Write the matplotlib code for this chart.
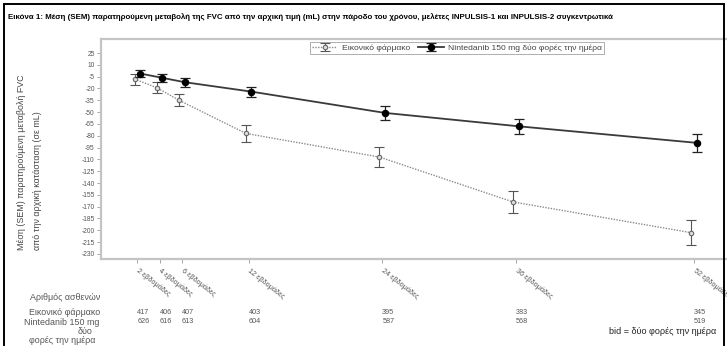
import matplotlib

matplotlib.use("Agg")

import matplotlib.pyplot as plt
import numpy as np
from matplotlib import font_manager
from matplotlib.lines import Line2D
from matplotlib.transforms import blended_transform_factory

# FVC change from baseline (mL), pooled INPULSIS-1 / INPULSIS-2
weeks = [2, 4, 6, 12, 24, 36, 52]
week_labels = [
    "2 εβδομάδες",
    "4 εβδομάδες",
    "6 εβδομάδες",
    "12 εβδομάδες",
    "24 εβδομάδες",
    "36 εβδομάδες",
    "52 εβδομάδες",
]
placebo_mean = [-8, -19, -35, -77, -107, -164, -203]
placebo_sem = [7, 6.7, 7.4, 11, 12.7, 14.4, 15.7]
ninted_mean = [-1, -6.5, -12, -24, -51, -68, -89]
ninted_sem = [5, 5, 5.7, 6.5, 9, 9.5, 11.5]
placebo_n = [417, 406, 407, 403, 395, 383, 345]
ninted_n = [626, 616, 613, 604, 587, 568, 519]
y_ticks = list(range(25, -231, -15))

installed = {f.name for f in font_manager.fontManager.ttflist}
narrow = "Liberation Sans Narrow" if "Liberation Sans Narrow" in installed else "Liberation Sans"
plt.rcParams["font.family"] = ["Liberation Sans", "DejaVu Sans"]

W, H = 727, 346
fig = plt.figure(figsize=(W / 100, H / 100), dpi=100)


def fx(px):
    return px / W


def fy(py):
    return 1 - py / H


# axes box runs past the right edge of the figure
x_lo, x_hi = -1.26, 56.0
px_per_week = 11.14
ax_left, ax_right = 101, 114.7 + px_per_week * x_hi
ax_top, ax_bottom = 39, 259
ax = fig.add_axes([fx(ax_left), fy(ax_bottom), fx(ax_right - ax_left), (ax_bottom - ax_top) / H])
ax.set_xlim(x_lo, x_hi)
ax.set_ylim(-236.4, 42.8)

wk = np.array(weeks, dtype=float)
ax.errorbar(
    wk - 0.25, placebo_mean, yerr=placebo_sem,
    color="#8a8a8a", ls=(0, (1, 1)), lw=1.0,
    marker="o", ms=3.2, mfc="#dddddd", mec="#666666", mew=0.8,
    ecolor="#555555", elinewidth=0.8, capsize=3.5, capthick=0.8,
    label="Εικονικό φάρμακο", zorder=2,
)
ax.errorbar(
    wk + 0.25, ninted_mean, yerr=ninted_sem,
    color="#3a3a3a", ls="-", lw=1.3,
    marker="o", ms=4.4, mfc="black", mec="black",
    ecolor="#222222", elinewidth=0.9, capsize=3.5, capthick=0.9,
    label="Nintedanib 150 mg δύο φορές την ημέρα", zorder=3,
)

for side in ("left", "bottom", "top", "right"):
    ax.spines[side].set_color("#c4c4c4")
    ax.spines[side].set_linewidth(1.6)

ax.set_yticks(y_ticks)
ax.set_yticklabels([str(v) for v in y_ticks])
ax.tick_params(axis="y", length=3, width=0.6, color="#999999", labelsize=4.8,
               labelcolor="#555555", pad=1.5)
ax.set_xticks(weeks)
ax.set_xticklabels(week_labels, rotation=-38, ha="left", va="center",
                   rotation_mode="anchor")
ax.tick_params(axis="x", length=3, width=0.6, color="#999999", labelsize=5.2,
               labelcolor="#555555", pad=5)

leg = ax.legend(
    loc="center", bbox_to_anchor=(fx(457), fy(48)), bbox_transform=fig.transFigure,
    ncol=2, fontsize=6.1, frameon=True, fancybox=False, handlelength=3.0,
    handletextpad=0.5, columnspacing=1.0, borderpad=0.2, labelcolor="#444444",
)
leg.get_frame().set_edgecolor("#999999")
leg.get_frame().set_linewidth(0.7)

# number of patients under each visit
num_tr = blended_transform_factory(ax.transData, fig.transFigure)
for w, n_p, n_n in zip(weeks, placebo_n, ninted_n):
    ax.text(w, fy(312), str(n_p), transform=num_tr, ha="left", va="center",
            fontsize=5.2, color="#555555", clip_on=False)
    ax.text(w, fy(321.5), str(n_n), transform=num_tr, ha="left", va="center",
            fontsize=5.2, color="#555555", clip_on=False)

label_kw = dict(fontsize=6.4, color="#555555", va="center")
fig.text(fx(100), fy(298), "Αριθμός ασθενών", ha="right", **label_kw)
fig.text(fx(100), fy(312.5), "Εικονικό φάρμακο", ha="right", **label_kw)
fig.text(fx(61.5), fy(322.5), "Nintedanib 150 mg", ha="center", **label_kw)
fig.text(fx(85), fy(331.5), "δύο", ha="center", **label_kw)
fig.text(fx(62.5), fy(340.5), "φορές την ημέρα", ha="center", **label_kw)

# y axis title, two lines reading upward from the bottom of the axes
fig.text(fx(22), fy(250), "Μέση (SEM) παρατηρούμενη μεταβολή FVC", rotation=90,
         ha="center", va="bottom", fontsize=6.4, color="#444444")
fig.text(fx(38), fy(250), "από την αρχική κατάσταση (σε mL)", rotation=90,
         ha="center", va="bottom", fontsize=6.4, color="#444444")

fig.text(fx(8), fy(17), "Εικόνα 1: Μέση (SEM) παρατηρούμενη μεταβολή της FVC από την αρχική "
         "τιμή (mL) στην πάροδο του χρόνου, μελέτες INPULSIS-1 και INPULSIS-2 συγκεντρωτικά",
         family=[narrow, "DejaVu Sans"], fontweight="bold", fontsize=5.7,
         ha="left", va="center", color="black")
fig.text(fx(609), fy(331), "bid = δύο φορές την ημέρα", family=[narrow, "DejaVu Sans"],
         fontsize=6.5, ha="left", va="center", color="#222222")

# outer frame
for xs, ys in (([3.5, 3.5], [H, 3.5]), ([3.5, 723.5], [3.5, 3.5]), ([723.5, 723.5], [3.5, H])):
    fig.add_artist(Line2D([fx(v) for v in xs], [fy(v) for v in ys], color="black", lw=1.4))

fig.savefig("out.png", dpi=100)
